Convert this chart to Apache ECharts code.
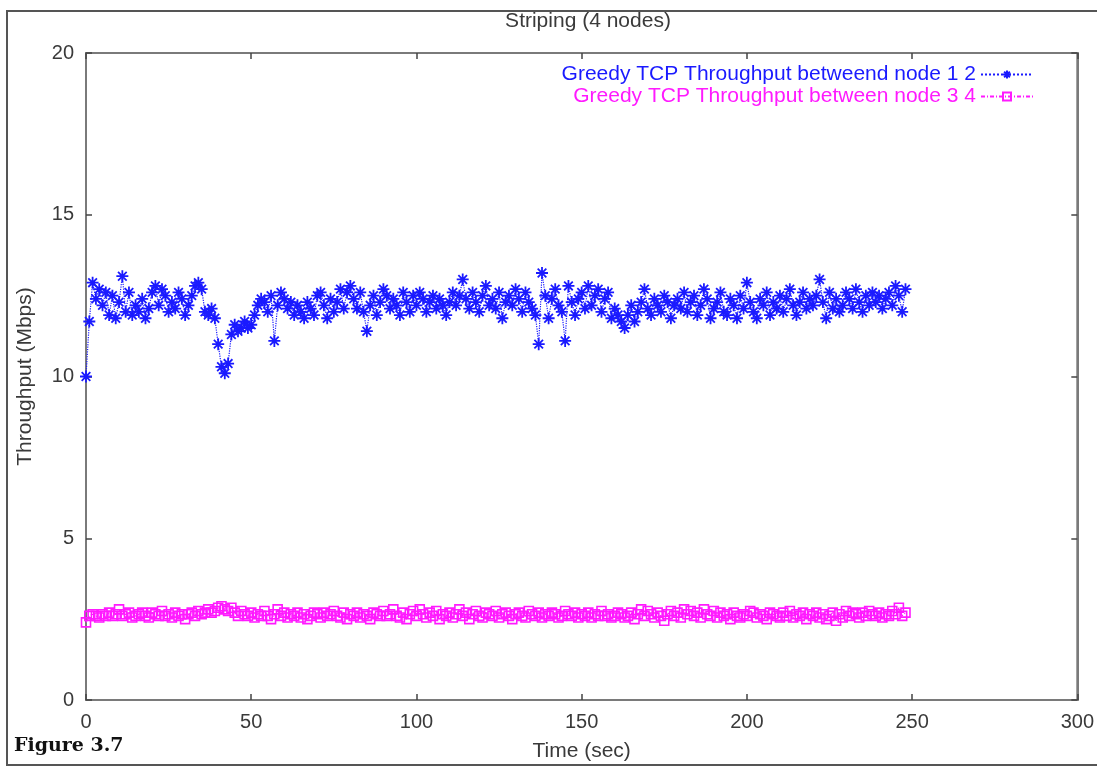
<!DOCTYPE html>
<html>
<head>
<meta charset="utf-8">
<title>Striping (4 nodes)</title>
<script src="https://cdn.jsdelivr.net/npm/echarts@6/dist/echarts.min.js"></script>
<style>
  html, body { margin: 0; padding: 0; background: #fff; }
  #chart { width: 1097px; height: 767px; }
</style>
</head>
<body>
<div id="chart"></div>
<script>
// Throughput samples, one per second, t = 0 .. 248
const seriesNames = [
  'Greedy TCP Throughput betweend node 1 2',
  'Greedy TCP Throughput between node 3 4'
];
const xTicks = [0, 50, 100, 150, 200, 250, 300];
const yTicks = [0, 5, 10, 15, 20];

const node12 = [
  10.0, 11.7, 12.9, 12.4, 12.7, 12.2, 12.6, 11.9, 12.5, 11.8,
  12.3, 13.1, 12.0, 12.6, 11.9, 12.2, 12.0, 12.4, 11.8, 12.1,
  12.6, 12.8, 12.2, 12.7, 12.5, 12.0, 12.3, 12.1, 12.6, 12.4,
  11.9, 12.2, 12.5, 12.8, 12.9, 12.7, 12.0, 11.9, 12.1, 11.8,
  11.0, 10.3, 10.1, 10.4, 11.3, 11.6, 11.4, 11.5, 11.7, 11.5,
  11.6, 11.9, 12.2, 12.4, 12.3, 12.0, 12.5, 11.1, 12.2, 12.6,
  12.4, 12.1, 12.3, 11.9, 12.2, 12.0, 11.8, 12.3, 12.1, 11.9,
  12.5, 12.6, 12.2, 11.8, 12.4, 12.0, 12.3, 12.7, 12.1, 12.6,
  12.8, 12.4, 12.1, 12.6, 12.0, 11.4, 12.2, 12.5, 11.9, 12.3,
  12.7, 12.5, 12.1, 12.4, 12.2, 11.9, 12.6, 12.3, 12.0, 12.5,
  12.2, 12.6, 12.4, 12.0, 12.3, 12.5, 12.1, 12.4, 12.2, 11.9,
  12.3, 12.6, 12.2, 12.5, 13.0, 12.4, 12.1, 12.6, 12.3, 12.0,
  12.5, 12.8, 12.2, 12.4, 12.1, 12.6, 11.8, 12.3, 12.5, 12.2,
  12.7, 12.4, 12.0, 12.6, 12.3, 12.1, 11.9, 11.0, 13.2, 12.5,
  11.8, 12.4, 12.7, 12.2, 12.0, 11.1, 12.8, 12.3, 11.9, 12.4,
  12.6, 12.1, 12.8, 12.2, 12.5, 12.7, 12.0, 12.4, 12.6, 11.8,
  12.1, 11.9, 11.7, 11.5, 11.9, 12.2, 11.7, 12.0, 12.3, 12.7,
  12.1, 11.9, 12.4, 12.2, 12.0, 12.5, 12.3, 11.8, 12.2, 12.4,
  12.1, 12.6, 12.0, 12.3, 12.5, 11.9, 12.2, 12.7, 12.4, 11.8,
  12.1, 12.3, 12.6, 12.0, 11.9, 12.4, 12.2, 11.8, 12.5, 12.1,
  12.9, 12.3, 12.0, 11.8, 12.4, 12.2, 12.6, 11.9, 12.3, 12.1,
  12.5, 12.0, 12.4, 12.7, 12.2, 11.9, 12.3, 12.6, 12.1, 12.4,
  12.2, 12.5, 13.0, 12.3, 11.8, 12.6, 12.1, 12.4, 12.0, 12.2,
  12.6, 12.4, 12.1, 12.7, 12.3, 12.0, 12.5, 12.2, 12.6, 12.3,
  12.5, 12.1, 12.4, 12.6, 12.2, 12.8, 12.5, 12.0, 12.7
];

const node34 = [
  2.4, 2.6, 2.65, 2.6, 2.55, 2.65, 2.6, 2.7, 2.6, 2.65,
  2.8, 2.6, 2.65, 2.7, 2.55, 2.6, 2.65, 2.7, 2.6, 2.55,
  2.7, 2.65, 2.6, 2.75, 2.6, 2.65, 2.55, 2.7, 2.6, 2.65,
  2.5, 2.65, 2.7, 2.6, 2.75, 2.65, 2.7, 2.8, 2.7, 2.75,
  2.85, 2.9, 2.8, 2.75, 2.85, 2.7, 2.6, 2.75, 2.65, 2.6,
  2.7, 2.55, 2.65, 2.6, 2.75, 2.6, 2.5, 2.65, 2.8, 2.6,
  2.7, 2.55, 2.65, 2.6, 2.7, 2.55, 2.65, 2.5, 2.6, 2.7,
  2.65, 2.55, 2.7, 2.6, 2.65, 2.75, 2.6, 2.55, 2.7, 2.5,
  2.65, 2.6, 2.7, 2.55, 2.65, 2.6, 2.5, 2.7, 2.65, 2.6,
  2.75, 2.6, 2.65, 2.8, 2.6, 2.55, 2.7, 2.5, 2.65, 2.75,
  2.6, 2.8, 2.65, 2.55, 2.7, 2.6, 2.75, 2.5, 2.65, 2.6,
  2.7, 2.55, 2.65, 2.8, 2.6, 2.7, 2.5, 2.65, 2.75, 2.6,
  2.55, 2.7, 2.65, 2.6, 2.75, 2.55, 2.65, 2.7, 2.6, 2.5,
  2.65, 2.7, 2.6, 2.55, 2.75, 2.65, 2.6, 2.7, 2.55, 2.65,
  2.6, 2.7, 2.65, 2.55, 2.6, 2.75, 2.65, 2.6, 2.7, 2.55,
  2.65, 2.6, 2.7, 2.55, 2.65, 2.6, 2.75, 2.6, 2.65, 2.55,
  2.6, 2.7, 2.65, 2.55, 2.6, 2.7, 2.5, 2.65, 2.8, 2.6,
  2.75, 2.65, 2.55, 2.7, 2.6, 2.45, 2.65, 2.75, 2.6, 2.7,
  2.55, 2.8, 2.65, 2.75, 2.6, 2.7, 2.55, 2.8, 2.65, 2.6,
  2.75, 2.55, 2.7, 2.6, 2.65, 2.5, 2.7, 2.6, 2.55, 2.65,
  2.6, 2.75, 2.7, 2.55, 2.65, 2.6, 2.5, 2.7, 2.65, 2.6,
  2.55, 2.7, 2.6, 2.75, 2.55, 2.65, 2.6, 2.7, 2.5, 2.65,
  2.6, 2.7, 2.55, 2.65, 2.5, 2.6, 2.7, 2.45, 2.65, 2.55,
  2.75, 2.6, 2.7, 2.65, 2.55, 2.7, 2.6, 2.75, 2.65, 2.6,
  2.7, 2.55, 2.65, 2.6, 2.75, 2.65, 2.85, 2.6, 2.7
];

const toPairs = arr => arr.map((v, i) => [i, v]);

const BLUE = '#1a1aff';
const PINK = '#ff1aff';
const AXIS = '#7a7a7a';
const TEXT = '#3a3a3a';
const FONT = '"Liberation Sans", Arial, sans-serif';
const FS = 20;

// eight-armed asterisk drawn as strokes
const ASTERISK = 'path://M5,0L5,10M0,5L10,5M1.4,1.4L8.6,8.6M1.4,8.6L8.6,1.4';

const chart = echarts.init(document.getElementById('chart'), null, { renderer: 'canvas' });

const baseAxisLabel = { color: TEXT, fontFamily: FONT, fontSize: FS };
const tickStyle = { show: true, inside: true, length: 6, lineStyle: { color: '#444', width: 1.5 } };
// mirrored axes sit on the far edges of the box, not on the zero line
const edgeLine = { show: true, onZero: false, lineStyle: { color: AXIS, width: 2 } };

chart.setOption({
  animation: false,
  backgroundColor: '#ffffff',
  title: {
    text: 'Striping (4 nodes)',
    left: 583, top: 6,
    textAlign: 'center',
    textStyle: { color: TEXT, fontFamily: FONT, fontSize: 21, fontWeight: 'normal' }
  },
  legend: [
    {
      data: [{ name: seriesNames[0], textStyle: { color: BLUE } }],
      right: 58, top: 59, align: 'right', orient: 'vertical',
      itemWidth: 52, itemHeight: 10, itemGap: 4,
      textStyle: { fontFamily: FONT, fontSize: 21 },
      selectedMode: false
    },
    {
      data: [{ name: seriesNames[1], textStyle: { color: PINK } }],
      right: 58, top: 81, align: 'right', orient: 'vertical',
      itemWidth: 52, itemHeight: 10, itemGap: 4,
      textStyle: { fontFamily: FONT, fontSize: 21 },
      selectedMode: false
    }
  ],
  grid: {
    left: 86, top: 53, right: 17, bottom: 67,
    show: true, borderColor: AXIS, borderWidth: 2, backgroundColor: 'transparent'
  },
  xAxis: [
    {
      type: 'value', min: 0, max: 300, interval: 50,
      name: 'Time (sec)', nameLocation: 'middle', nameGap: 41,
      nameTextStyle: { color: TEXT, fontFamily: FONT, fontSize: 21 },
      axisLine: { show: true, onZero: false, lineStyle: { color: AXIS, width: 2 } },
      axisTick: tickStyle,
      axisLabel: Object.assign({ margin: 12, customValues: xTicks }, baseAxisLabel),
      splitLine: { show: false }
    },
    {
      type: 'value', min: 0, max: 300, interval: 50, position: 'top',
      axisLine: edgeLine,
      axisTick: tickStyle,
      axisLabel: { show: false },
      splitLine: { show: false }
    }
  ],
  yAxis: [
    {
      type: 'value', min: 0, max: 20, interval: 5,
      name: 'Throughput (Mbps)', nameLocation: 'middle', nameGap: 50,
      nameTextStyle: { color: TEXT, fontFamily: FONT, fontSize: 21 },
      axisLine: { show: true, onZero: false, lineStyle: { color: AXIS, width: 2 } },
      axisTick: tickStyle,
      axisLabel: Object.assign({ margin: 12, customValues: yTicks }, baseAxisLabel),
      splitLine: { show: false }
    },
    {
      type: 'value', min: 0, max: 20, interval: 5, position: 'right',
      axisLine: edgeLine,
      axisTick: tickStyle,
      axisLabel: { show: false },
      splitLine: { show: false }
    }
  ],
  series: [
    {
      name: seriesNames[0],
      type: 'line',
      xAxisIndex: 0, yAxisIndex: 0,
      data: toPairs(node12),
      symbol: ASTERISK,
      symbolSize: 12,
      showAllSymbol: true,
      itemStyle: { color: 'rgba(0,0,0,0)', borderColor: BLUE, borderWidth: 1.8 },
      lineStyle: { color: BLUE, width: 1.2, type: 'dotted' },
      emphasis: { disabled: true },
      z: 3
    },
    {
      name: seriesNames[1],
      type: 'line',
      xAxisIndex: 0, yAxisIndex: 0,
      data: toPairs(node34),
      symbol: 'rect',
      symbolSize: 9,
      showAllSymbol: true,
      itemStyle: { color: 'rgba(0,0,0,0)', borderColor: PINK, borderWidth: 1.6 },
      lineStyle: { color: PINK, width: 1.2, type: [4, 2, 1, 2] },
      emphasis: { disabled: true },
      z: 2
    }
  ],
  graphic: [
    {
      type: 'rect',
      shape: { x: 7, y: 11, width: 1100, height: 754 },
      style: { fill: 'none', stroke: '#555', lineWidth: 2 },
      silent: true, z: 0
    },
    {
      type: 'text',
      left: 14, top: 737,
      style: {
        text: 'Figure 3.7',
        fill: '#111',
        font: 'bold 19px "DejaVu Serif", "Liberation Serif", serif'
      },
      silent: true
    }
  ]
});
</script>
</body>
</html>
